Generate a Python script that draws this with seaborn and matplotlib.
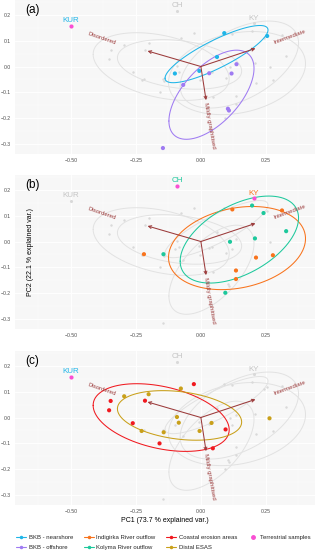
import numpy as np
import pandas as pd
import matplotlib
matplotlib.use("Agg")
import matplotlib.pyplot as plt
from matplotlib.lines import Line2D
import seaborn as sns

# PCA scores, one pair of lists per sample group
near_x = [-0.100, -0.006, 0.062, 0.090, 0.255]
near_y = [-0.027, -0.017, 0.037, 0.129, 0.118]
off_x = [-0.068, 0.032, 0.118, 0.137, 0.104, 0.108, -0.146]
off_y = [-0.071, -0.026, -0.027, 0.009, -0.163, -0.170, -0.315]
indig_x = [-0.219, 0.121, 0.312, 0.212, 0.277, 0.135, 0.135]
indig_y = [-0.049, 0.124, 0.120, -0.062, -0.053, -0.112, -0.145]
kol_x = [-0.144, 0.197, 0.241, 0.328, 0.112, 0.208, 0.094]
kol_y = [-0.049, 0.139, 0.110, 0.040, -0.001, 0.012, -0.198]
coast_x = [-0.347, -0.353, -0.215, -0.027, -0.262, -0.159, 0.095, 0.046]
coast_y = [0.064, 0.028, 0.065, 0.129, -0.022, -0.100, -0.046, -0.119]
distal_x = [-0.295, -0.201, -0.077, -0.092, -0.085, -0.228, -0.143, -0.005, 0.041, 0.264]
distal_y = [0.082, 0.090, 0.112, 0.002, -0.020, -0.052, -0.057, -0.052, -0.021, -0.003]

terr_names = ["KUR", "CH", "KY"]
terr_x = [-0.501, -0.090, 0.203]
terr_y = [0.158, 0.215, 0.167]

# loadings (arrows) and their labels
var_names = ["Disordered", "Intermediate", "Mildly graphitised"]
var_x = [-0.205, 0.210, 0.020]
var_y = [0.060, 0.070, -0.130]
var_lab_x = [-0.382, 0.342, 0.032]
var_lab_y = [0.110, 0.113, -0.227]
var_rot = [-19, 20, -80]

groups = ["BKB - nearshore", "BKB - offshore", "Indigirka River outflow",
          "Kolyma River outflow", "Coastal erosion areas", "Distal ESAS"]
colors = ["#1FB5E8", "#9F7BF2", "#F8731C", "#1DC89C", "#F0191F", "#C9A01A"]
terr_color = "#F94FD3"
grey_pt = "#D9D9D9"
grey_line = "#E2E2E2"
grey_lab = "#C4C4C4"
arrow_col = "#9B3A3A"

panel_tags = ["(a)", "(b)", "(c)"]
panel_groups = [[0, 1], [2, 3], [4, 5]]
panel_terr = [{"KUR": "#1FB5E8"}, {"CH": "#1DC89C", "KY": "#F8731C"}, {"KUR": "#1FB5E8"}]

xs = [near_x, off_x, indig_x, kol_x, coast_x, distal_x]
ys = [near_y, off_y, indig_y, kol_y, coast_y, distal_y]
df = pd.concat([pd.DataFrame({"PC1": x, "PC2": y, "group": g})
                for x, y, g in zip(xs, ys, groups)], ignore_index=True)
palette = dict(zip(groups, colors))


def ellipse(x, y, prob=0.68, n=100):
    pts = np.column_stack([x, y])
    mu = pts.mean(axis=0)
    sigma = np.cov(pts, rowvar=False)
    ed = np.sqrt(-2 * np.log(1 - prob))
    t = np.linspace(-np.pi, np.pi, n)
    circle = np.column_stack([np.cos(t), np.sin(t)])
    e = circle @ np.linalg.cholesky(sigma).T * ed + mu
    return e[:, 0], e[:, 1]


sns.set_theme(style="darkgrid", rc={"axes.facecolor": "#F7F7F7", "grid.color": "white"})
plt.rcParams["font.family"] = ["Liberation Sans", "DejaVu Sans"]

fig = plt.figure(figsize=(3.2, 5.54), dpi=100)
bottoms = [1 - 154 / 554, 1 - 329 / 554, 1 - 505 / 554]

for k in range(3):
    ax = fig.add_axes([15 / 320, bottoms[k], 300 / 320, 154 / 554])
    hl = [groups[i] for i in panel_groups[k]]
    bg = df[~df["group"].isin(hl)]
    fg = df[df["group"].isin(hl)]

    # background groups in grey
    for g in groups:
        if g in hl:
            continue
        sub = df[df["group"] == g]
        ex, ey = ellipse(sub["PC1"], sub["PC2"])
        ax.plot(ex, ey, color=grey_line, lw=0.7, zorder=2)
    sns.scatterplot(data=bg, x="PC1", y="PC2", color=grey_pt, s=3, linewidth=0,
                    ax=ax, zorder=2)

    # terrestrial samples
    for name, tx, ty in zip(terr_names, terr_x, terr_y):
        if name in panel_terr[k]:
            ax.scatter(tx, ty, s=9, color=terr_color, linewidth=0, zorder=4)
            lc = panel_terr[k][name]
        else:
            ax.scatter(tx, ty, s=5, color=grey_pt, linewidth=0, zorder=2)
            lc = grey_lab
        ax.annotate(name, (tx, ty), xytext=(0, 1), textcoords="offset points",
                    ha="center", va="bottom", fontsize=5.8, color=lc, zorder=5)

    # highlighted groups
    for g in hl:
        sub = df[df["group"] == g]
        ex, ey = ellipse(sub["PC1"], sub["PC2"])
        ax.plot(ex, ey, color=palette[g], lw=0.75, zorder=3)
    sns.scatterplot(data=fg, x="PC1", y="PC2", hue="group", palette=palette, s=9,
                    linewidth=0, legend=False, ax=ax, zorder=4)

    # loading arrows
    for vx, vy, lx, ly, name, rot in zip(var_x, var_y, var_lab_x, var_lab_y, var_names, var_rot):
        ax.annotate("", xy=(vx, vy), xytext=(0, 0),
                    arrowprops=dict(arrowstyle="->", color=arrow_col, lw=0.75,
                                    shrinkA=0, shrinkB=0, mutation_scale=5),
                    zorder=5)
        ax.text(lx, ly, name, rotation=rot, rotation_mode="anchor", ha="center",
                va="center", fontsize=4.3, color=arrow_col, zorder=5)

    ax.set_xlim(-0.715, 0.439)
    ax.set_ylim(-0.338, 0.257)
    ax.set_xticks([-0.5, -0.25, 0.0, 0.25])
    ax.set_xticklabels(["\u22120.50", "\u22120.25", "0.00", "0.25"])
    ax.set_yticks([-0.3, -0.2, -0.1, 0.0, 0.1, 0.2])
    ax.set_yticklabels(["\u22120.3", "\u22120.2", "\u22120.1", "0.0", "0.1", "0.2"])
    ax.set_xticks([-0.625, -0.375, -0.125, 0.125, 0.375], minor=True)
    ax.set_yticks([-0.25, -0.15, -0.05, 0.05, 0.15, 0.25], minor=True)
    ax.grid(which="major", color="white", lw=0.7)
    ax.grid(which="minor", color="white", lw=0.35)
    ax.tick_params(which="major", length=2, width=0.5, color="#333333",
                   labelsize=3.7, labelcolor="#4D4D4D", pad=1)
    ax.tick_params(which="minor", length=0)
    ax.set_xlabel("")
    ax.set_ylabel("")
    for s in ax.spines.values():
        s.set_visible(False)
    ax.text(0.057, 0.935, panel_tags[k], transform=ax.transAxes, fontsize=8.5,
            ha="center", va="center", color="black")

fig.text(165 / 320, 1 - 520.5 / 554, "PC1 (73.7 % explained var.)", ha="center",
         va="center", fontsize=5, color="black")
fig.text(30 / 320, 1 - 252.5 / 554, "PC2 (22.1 % explained var.)", ha="center",
         va="center", rotation=90, fontsize=5, color="black")

handles = [Line2D([0], [0], color=c, lw=0.8, marker="o", markersize=1.5) for c in colors]
handles.append(Line2D([0], [0], color=terr_color, lw=0, marker="o", markersize=2.5))
fig.legend(handles, groups + ["Terrestrial samples"], loc="center left",
           bbox_to_anchor=(16 / 320, 1 - 542.5 / 554), ncol=4, frameon=False,
           fontsize=4.3, handlelength=1.7, handletextpad=0.4, columnspacing=1.8,
           labelspacing=0.9, borderpad=0, borderaxespad=0)

fig.savefig("out.png", dpi=100, facecolor="white")
